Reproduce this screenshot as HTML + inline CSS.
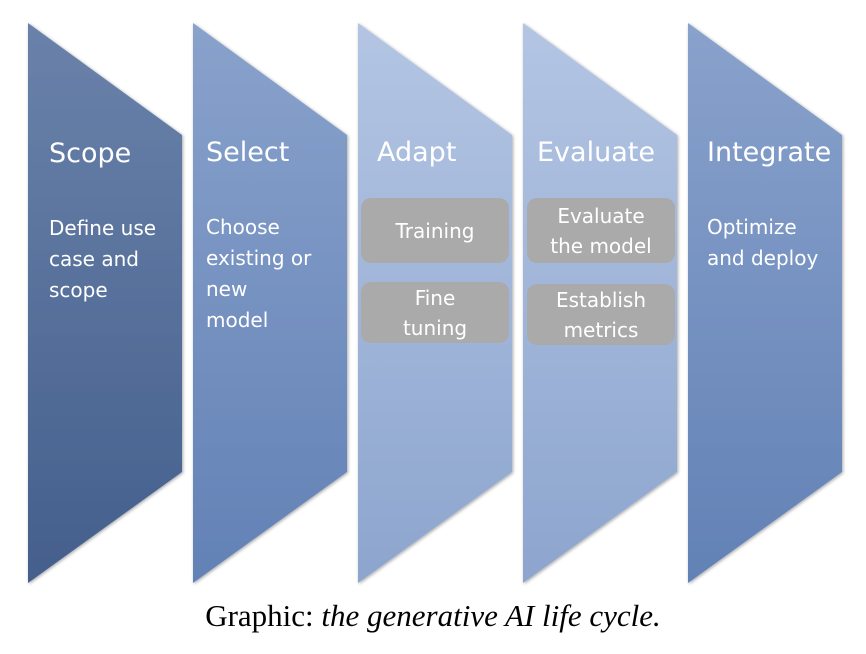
<!DOCTYPE html>
<html><head><style>
body{margin:0;width:866px;height:654px;background:#fff;position:relative;overflow:hidden;font-family:"DejaVu Sans","Liberation Sans",sans-serif;}
.t{position:absolute;color:#fff;font-size:27px;}
.b{position:absolute;color:#fff;font-size:20px;line-height:31px;}
.g{position:absolute;background:#aaa;border-radius:10px;color:#fff;font-size:20px;line-height:30px;text-align:center;display:flex;align-items:center;justify-content:center;}
.cap{position:absolute;left:0;width:866px;top:598px;text-align:center;font-family:"Liberation Serif",serif;font-size:31px;color:#000;}
</style></head><body>
<svg width="866" height="654" style="position:absolute;left:0;top:0">
<defs>
<linearGradient id="g1" x1="0" y1="0" x2="0" y2="1"><stop offset="0" stop-color="#6a82aa"/><stop offset="1" stop-color="#445f8c"/></linearGradient>
<linearGradient id="g2" x1="0" y1="0" x2="0" y2="1"><stop offset="0" stop-color="#89a2cc"/><stop offset="1" stop-color="#6281b5"/></linearGradient>
<linearGradient id="g3" x1="0" y1="0" x2="0" y2="1"><stop offset="0" stop-color="#b3c5e3"/><stop offset="1" stop-color="#8da5ce"/></linearGradient>
<filter id="s"><feDropShadow dx="1" dy="1" stdDeviation="1.5" flood-opacity="0.35"/></filter>
</defs>
<g filter="url(#s)">
<polygon points="28,23 182,135 182,472 28,583" fill="url(#g1)"/>
<polygon points="193,23 347,135 347,472 193,583" fill="url(#g2)"/>
<polygon points="358,23 512,135 512,472 358,583" fill="url(#g3)"/>
<polygon points="523,23 677,135 677,472 523,583" fill="url(#g3)"/>
<polygon points="688,23 842,135 842,472 688,583" fill="url(#g2)"/>
</g>
</svg>
<div class="t" style="left:49px;top:138px">Scope</div>
<div class="t" style="left:206px;top:137px">Select</div>
<div class="t" style="left:377px;top:137px">Adapt</div>
<div class="t" style="left:537px;top:137px">Evaluate</div>
<div class="t" style="left:707px;top:137px">Integrate</div>
<div class="b" style="left:49px;top:213px">Define use<br>case and<br>scope</div>
<div class="b" style="left:206px;top:212px">Choose<br>existing or<br>new<br>model</div>
<div class="b" style="left:707px;top:212px">Optimize<br>and deploy</div>
<div class="g" style="left:361px;top:198px;width:148px;height:65px">Training</div>
<div class="g" style="left:361px;top:282px;width:148px;height:61px">Fine<br>tuning</div>
<div class="g" style="left:527px;top:198px;width:148px;height:65px">Evaluate<br>the model</div>
<div class="g" style="left:527px;top:284px;width:148px;height:61px">Establish<br>metrics</div>
<div class="cap">Graphic: <i>the generative AI life cycle.</i></div>
</body></html>
